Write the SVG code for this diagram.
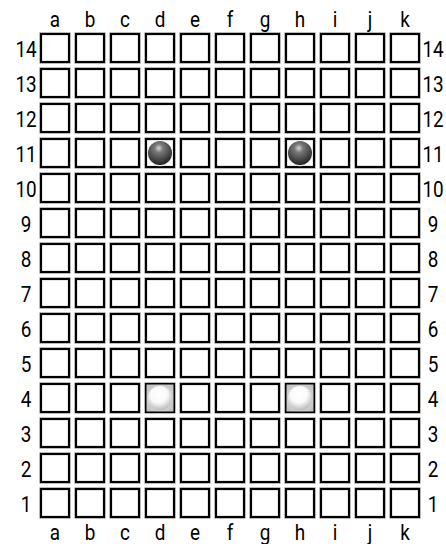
<svg xmlns="http://www.w3.org/2000/svg" xmlns:xlink="http://www.w3.org/1999/xlink" width="446" height="544" viewBox="0 0 446 544">
<style>
.cell{fill:#fff;stroke:#000;stroke-width:2.2}
.sh{fill:none;stroke:#c4c4c4;stroke-width:3.6}
.lab{font-family:Roboto,"Liberation Sans",sans-serif;font-size:22px;fill:#000;text-anchor:middle}
</style>
<defs>
<radialGradient id="blk" cx="0.45" cy="0.3" r="0.7">
<stop offset="0" stop-color="#d8d8d8"/>
<stop offset="0.25" stop-color="#7a7a7a"/>
<stop offset="0.8" stop-color="#3a3a3a"/>
<stop offset="1" stop-color="#222"/>
</radialGradient>
<radialGradient id="wht" cx="0.45" cy="0.35" r="0.7">
<stop offset="0" stop-color="#fff"/>
<stop offset="0.5" stop-color="#fafafa"/>
<stop offset="0.85" stop-color="#c8c8c8"/>
<stop offset="1" stop-color="#aaa"/>
</radialGradient>
<radialGradient id="wbg" cx="0.5" cy="0.5" r="0.7">
<stop offset="0" stop-color="#f0f0f0"/>
<stop offset="1" stop-color="#bdbdbd"/>
</radialGradient>
<g id="row">
<rect class="sh" x="41" y="1" width="28" height="28"/><rect class="cell" x="41" y="1" width="28" height="28"/>
<rect class="sh" x="76" y="1" width="28" height="28"/><rect class="cell" x="76" y="1" width="28" height="28"/>
<rect class="sh" x="111" y="1" width="28" height="28"/><rect class="cell" x="111" y="1" width="28" height="28"/>
<rect class="sh" x="146" y="1" width="28" height="28"/><rect class="cell" x="146" y="1" width="28" height="28"/>
<rect class="sh" x="181" y="1" width="28" height="28"/><rect class="cell" x="181" y="1" width="28" height="28"/>
<rect class="sh" x="216" y="1" width="28" height="28"/><rect class="cell" x="216" y="1" width="28" height="28"/>
<rect class="sh" x="251" y="1" width="28" height="28"/><rect class="cell" x="251" y="1" width="28" height="28"/>
<rect class="sh" x="286" y="1" width="28" height="28"/><rect class="cell" x="286" y="1" width="28" height="28"/>
<rect class="sh" x="321" y="1" width="28" height="28"/><rect class="cell" x="321" y="1" width="28" height="28"/>
<rect class="sh" x="356" y="1" width="28" height="28"/><rect class="cell" x="356" y="1" width="28" height="28"/>
<rect class="sh" x="391" y="1" width="28" height="28"/><rect class="cell" x="391" y="1" width="28" height="28"/>
</g>
</defs>
<rect width="446" height="544" fill="#fff"/>
<g id="board">
<use xlink:href="#row" y="33"/>
<use xlink:href="#row" y="68"/>
<use xlink:href="#row" y="103"/>
<use xlink:href="#row" y="138"/>
<use xlink:href="#row" y="173"/>
<use xlink:href="#row" y="208"/>
<use xlink:href="#row" y="243"/>
<use xlink:href="#row" y="278"/>
<use xlink:href="#row" y="313"/>
<use xlink:href="#row" y="348"/>
<use xlink:href="#row" y="383"/>
<use xlink:href="#row" y="418"/>
<use xlink:href="#row" y="453"/>
<use xlink:href="#row" y="488"/>
</g>
<g id="pieces">
<g id="d11"><circle cx="160" cy="154" r="12.5" fill="#ddd" opacity="0.5"/><circle cx="160" cy="153" r="12" fill="url(#blk)"/></g>
<g id="h11"><circle cx="300" cy="154" r="12.5" fill="#ddd" opacity="0.5"/><circle cx="300" cy="153" r="12" fill="url(#blk)"/></g>
<g id="d4"><rect x="146.5" y="384.5" width="27" height="27" fill="url(#wbg)"/><circle cx="160" cy="398" r="12" fill="url(#wht)"/></g>
<g id="h4"><rect x="286.5" y="384.5" width="27" height="27" fill="url(#wbg)"/><circle cx="300" cy="398" r="12" fill="url(#wht)"/></g>
</g>
<g id="labels">
<g id="top">
<text class="lab" transform="translate(55,27) scale(0.86,1)">a</text>
<text class="lab" transform="translate(90,27) scale(0.86,1)">b</text>
<text class="lab" transform="translate(125,27) scale(0.86,1)">c</text>
<text class="lab" transform="translate(160,27) scale(0.86,1)">d</text>
<text class="lab" transform="translate(195,27) scale(0.86,1)">e</text>
<text class="lab" transform="translate(230,27) scale(0.86,1)">f</text>
<text class="lab" transform="translate(265,27) scale(0.86,1)">g</text>
<text class="lab" transform="translate(300,27) scale(0.86,1)">h</text>
<text class="lab" transform="translate(335,27) scale(0.86,1)">i</text>
<text class="lab" transform="translate(370,27) scale(0.86,1)">j</text>
<text class="lab" transform="translate(405,27) scale(0.86,1)">k</text>
</g>
<g id="bottom">
<text class="lab" transform="translate(55,540) scale(0.86,1)">a</text>
<text class="lab" transform="translate(90,540) scale(0.86,1)">b</text>
<text class="lab" transform="translate(125,540) scale(0.86,1)">c</text>
<text class="lab" transform="translate(160,540) scale(0.86,1)">d</text>
<text class="lab" transform="translate(195,540) scale(0.86,1)">e</text>
<text class="lab" transform="translate(230,540) scale(0.86,1)">f</text>
<text class="lab" transform="translate(265,540) scale(0.86,1)">g</text>
<text class="lab" transform="translate(300,540) scale(0.86,1)">h</text>
<text class="lab" transform="translate(335,540) scale(0.86,1)">i</text>
<text class="lab" transform="translate(370,540) scale(0.86,1)">j</text>
<text class="lab" transform="translate(405,540) scale(0.86,1)">k</text>
</g>
<g id="left">
<text class="lab" transform="translate(26,57) scale(0.86,1)">14</text>
<text class="lab" transform="translate(26,92) scale(0.86,1)">13</text>
<text class="lab" transform="translate(26,127) scale(0.86,1)">12</text>
<text class="lab" transform="translate(26,162) scale(0.86,1)">11</text>
<text class="lab" transform="translate(26,197) scale(0.86,1)">10</text>
<text class="lab" transform="translate(26,232) scale(0.86,1)">9</text>
<text class="lab" transform="translate(26,267) scale(0.86,1)">8</text>
<text class="lab" transform="translate(26,302) scale(0.86,1)">7</text>
<text class="lab" transform="translate(26,337) scale(0.86,1)">6</text>
<text class="lab" transform="translate(26,372) scale(0.86,1)">5</text>
<text class="lab" transform="translate(26,407) scale(0.86,1)">4</text>
<text class="lab" transform="translate(26,442) scale(0.86,1)">3</text>
<text class="lab" transform="translate(26,477) scale(0.86,1)">2</text>
<text class="lab" transform="translate(26,512) scale(0.86,1)">1</text>
</g>
<g id="right">
<text class="lab" transform="translate(433,57) scale(0.86,1)">14</text>
<text class="lab" transform="translate(433,92) scale(0.86,1)">13</text>
<text class="lab" transform="translate(433,127) scale(0.86,1)">12</text>
<text class="lab" transform="translate(433,162) scale(0.86,1)">11</text>
<text class="lab" transform="translate(433,197) scale(0.86,1)">10</text>
<text class="lab" transform="translate(433,232) scale(0.86,1)">9</text>
<text class="lab" transform="translate(433,267) scale(0.86,1)">8</text>
<text class="lab" transform="translate(433,302) scale(0.86,1)">7</text>
<text class="lab" transform="translate(433,337) scale(0.86,1)">6</text>
<text class="lab" transform="translate(433,372) scale(0.86,1)">5</text>
<text class="lab" transform="translate(433,407) scale(0.86,1)">4</text>
<text class="lab" transform="translate(433,442) scale(0.86,1)">3</text>
<text class="lab" transform="translate(433,477) scale(0.86,1)">2</text>
<text class="lab" transform="translate(433,512) scale(0.86,1)">1</text>
</g>
</g>
</svg>
